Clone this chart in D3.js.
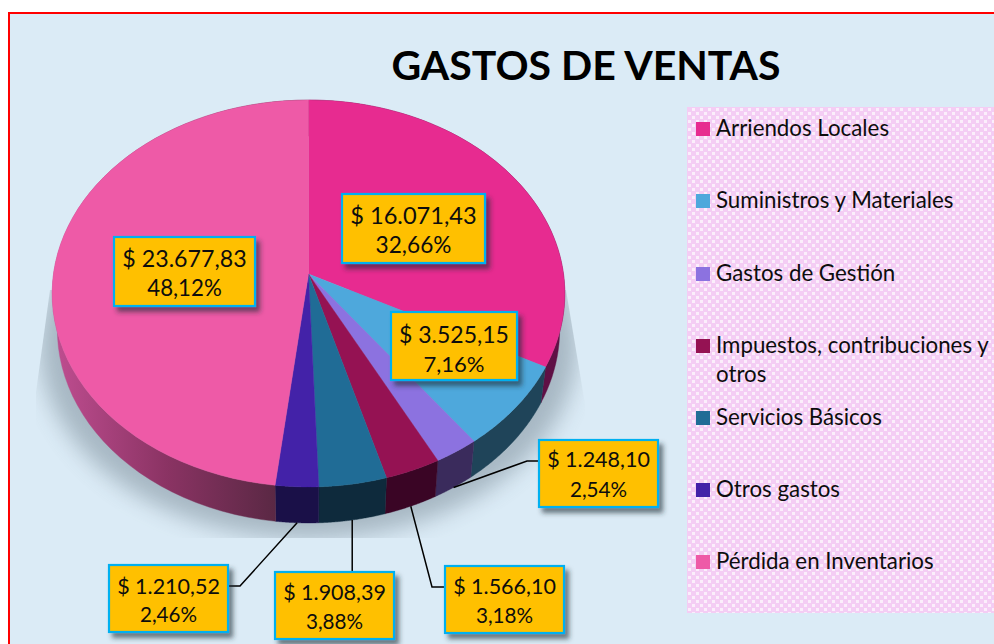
<!DOCTYPE html>
<html><head><meta charset="utf-8">
<script src="https://cdn.jsdelivr.net/npm/d3@7"></script>
<style>html,body{margin:0;padding:0;background:#fff;overflow:hidden}svg{display:block}text{font-family:Lato,sans-serif;fill:#0d0d0d}</style>
</head><body><svg id="c" width="994" height="644"></svg>
<script>
const title = "GASTOS DE VENTAS";
const categories = ["Arriendos Locales","Suministros y Materiales","Gastos de Gestión","Impuestos, contribuciones y otros","Servicios Básicos","Otros gastos","Pérdida en Inventarios"];
const values = [16071.43,3525.15,1248.10,1566.10,1908.39,1210.52,23677.83];
const topColors = ["#E72B90","#4EA8DC","#8C72E0","#951253","#206C96","#4322A8","#EE5AA7"];
const wallColors = ["#5f1045","#1F4459","#3A2B5C","#3A0525","#0E2A3C","#1A1048","url(#wallPink)"];
const legendLines = [["Arriendos Locales"],["Suministros y Materiales"],["Gastos de Gestión"],["Impuestos, contribuciones y","otros"],["Servicios Básicos"],["Otros gastos"],["Pérdida en Inventarios"]];
const legendY = [122,194,267,339,411,483,555];
// layout of the callouts: box x0,y0,x1,y1, font size, baselines, elbow
const boxes = [
 {x0:342,y0:194,x1:485,y1:263,fs:23.6,b1:224,b2:253},
 {x0:391,y0:312,x1:517,y1:380,fs:23,b1:343,b2:372},
 {x0:539,y0:440,x1:658,y1:507,fs:21.5,b1:467,b2:497,elbow:[527,461],end:[539,461]},
 {x0:445,y0:566,x1:564,y1:633,fs:21.5,b1:594,b2:623,elbow:[432,587],end:[445,587]},
 {x0:275,y0:572,x1:394,y1:639,fs:21.5,b1:600,b2:629,elbow:null,end:null},
 {x0:109,y0:565,x1:228,y1:632,fs:21.5,b1:594,b2:622,elbow:[240,586],end:[228,586]},
 {x0:114,y0:237,x1:255,y1:306,fs:23.2,b1:267,b2:296}
];

const svg = d3.select("#c");
const defs = svg.append("defs");
const pat = defs.append("pattern").attr("id","conf").attr("patternUnits","userSpaceOnUse").attr("width",8).attr("height",8);
pat.append("rect").attr("width",8).attr("height",8).attr("fill","#F4CDF4");
[[0,0],[4,4]].forEach(p=>pat.append("rect").attr("x",p[0]).attr("y",p[1]).attr("width",3).attr("height",3).attr("fill","#fff").attr("opacity",.65));
const wg = defs.append("linearGradient").attr("id","wallPink").attr("gradientUnits","userSpaceOnUse").attr("x1",60).attr("x2",276).attr("y1",0).attr("y2",0);
wg.append("stop").attr("offset",0).attr("stop-color","#BC4C8E");
wg.append("stop").attr("offset",.5).attr("stop-color","#8A3363");
wg.append("stop").attr("offset",1).attr("stop-color","#5A2844");
const bf = defs.append("filter").attr("id","soft").attr("x","-20%").attr("y","-20%").attr("width","140%").attr("height","140%");
bf.append("feGaussianBlur").attr("stdDeviation",11);
const ds = defs.append("filter").attr("id","boxShadow").attr("x","-10%").attr("y","-10%").attr("width","125%").attr("height","130%");
ds.append("feDropShadow").attr("dx",4).attr("dy",5).attr("stdDeviation",2.5).attr("flood-color","#1c2a33").attr("flood-opacity",.6);
defs.append("clipPath").attr("id","shadowClip").append("polygon").attr("points","36,392 50,290 566,290 585,404 585,538 36,538");

svg.append("rect").attr("x",9).attr("y",13).attr("width",1000).attr("height",650).attr("fill","#DBEBF6").attr("stroke","#FF0000").attr("stroke-width",2);

svg.append("text").attr("x",586).attr("y",80).attr("text-anchor","middle").attr("font-size",41).attr("font-weight",700).attr("id","ttl").style("fill","#000").text(title);

// legend
svg.append("rect").attr("x",687).attr("y",107).attr("width",307).attr("height",506).attr("fill","url(#conf)");
categories.forEach((c,i)=>{
  svg.append("rect").attr("x",696).attr("y",legendY[i]).attr("width",14).attr("height",14).attr("fill",topColors[i]);
  legendLines[i].forEach((l,j)=>svg.append("text").attr("x",716).attr("y",legendY[i]+14+j*29).attr("font-size",22.3).text(l));
});

// pie in perspective
const cx=308.5, cy=274, B=255, A=191.5, t=-0.1008, depth=36, shrink=.98;
const px=d3.scaleLinear().domain([-1,1]).range([cx-B,cx+B]);
const py=d3.scaleLinear().domain([-1,1]).range([cy-A,cy+A]);
const proj=(a,r=1)=>{const u=r*Math.sin(a),v=-r*Math.cos(a),d=1+t*v;return [px(u/d),py(v/d)];};
const low=p=>[cx+(p[0]-cx)*shrink,p[1]+depth];
const arcs=d3.pie().sort(null).value(d=>d)(values);
const samples=(a0,a1)=>d3.range(0,61).map(i=>a0+(a1-a0)*i/60);
const line=d3.line();

// shadow
const silhouette=samples(0,2*Math.PI).map(a=>low(proj(a))).map(p=>[cx+(p[0]-cx)*1.07,p[1]+16]);
svg.append("g").attr("clip-path","url(#shadowClip)").append("path").attr("d",line(silhouette)+"Z").attr("fill","#6A7C88").attr("opacity",.46).attr("filter","url(#soft)");

// walls
const walls=svg.append("g");
arcs.forEach((d,i)=>{
  const rim=samples(d.startAngle,d.endAngle).map(a=>proj(a));
  const poly=rim.concat(rim.map(low).reverse());
  walls.append("path").attr("d",line(poly)+"Z").attr("fill",wallColors[i]).attr("stroke",wallColors[i]).attr("stroke-width",.4);
});
// tops
const tops=svg.append("g");
arcs.forEach((d,i)=>{
  const rim=samples(d.startAngle,d.endAngle).map(a=>proj(a));
  tops.append("path").attr("d",line([[cx,cy]].concat(rim))+"Z").attr("fill",topColors[i]).attr("stroke",topColors[i]).attr("stroke-width",.4);
});

// leader lines
const fmtV=d3.formatLocale({decimal:",",thousands:".",grouping:[3],currency:["$ ",""]}).format("$,.2f");
const fmtP=d3.formatLocale({decimal:",",thousands:".",grouping:[3],currency:["",""]}).format(",.2f");
const total=d3.sum(values);
arcs.forEach((d,i)=>{
  const b=boxes[i]; if(b.end===undefined) return;
  const s=low(proj((d.startAngle+d.endAngle)/2));
  const pts=b.end?[s,b.elbow,b.end]:[s,[s[0],b.y0]];
  svg.append("path").attr("d",line(pts)).attr("fill","none").attr("stroke","#000").attr("stroke-width",1.5);
});
// callouts
arcs.forEach((d,i)=>{
  const b=boxes[i],g=svg.append("g"),mid=(b.x0+b.x1)/2;
  g.append("rect").attr("x",b.x0).attr("y",b.y0).attr("width",b.x1-b.x0).attr("height",b.y1-b.y0).attr("fill","#FFC000").attr("stroke","#00B0F0").attr("stroke-width",2.2).attr("filter","url(#boxShadow)");
  g.append("text").attr("x",mid).attr("y",b.b1).attr("text-anchor","middle").attr("font-size",b.fs).text(fmtV(values[i]));
  g.append("text").attr("x",mid).attr("y",b.b2).attr("text-anchor","middle").attr("font-size",b.fs*.96).text(fmtP(values[i]/total*100)+"%");
});
</script></body></html>
